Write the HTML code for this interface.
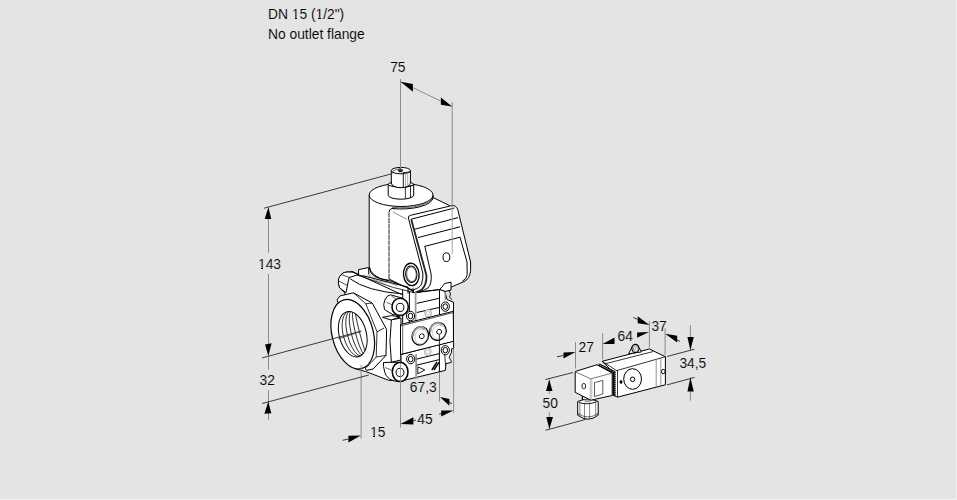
<!DOCTYPE html>
<html><head><meta charset="utf-8">
<style>
html,body{margin:0;padding:0;width:957px;height:500px;overflow:hidden;background:#f0f0f0}
svg{position:absolute;left:0;top:0;display:block}
text{font-family:"Liberation Sans",sans-serif;font-size:13.8px;fill:#000;stroke:#e4e4e4;stroke-width:0.1px}
</style></head><body>
<svg width="957" height="500" viewBox="0 0 957 500">
<defs><clipPath id="bore"><ellipse cx="352.75" cy="334.2" rx="13.4" ry="23" transform="rotate(-14.5 352.75 334.2)"/></clipPath></defs>
<rect x="0" y="0" width="956" height="499" fill="#e4e4e4"/>
<!-- heading -->
<text x="268" y="19">DN 15 (1/2")</text>
<text x="268" y="39">No outlet flange</text>

<!-- ============ MAIN VALVE ============ -->
<g id="valve" stroke="#000" stroke-width="1" fill="#fff" stroke-linejoin="round">
  <!-- coil cylinder -->
  <path d="M369.2,195 L369.2,266 Q370,277 389,281 L433,281 L433,195 Z"/>
  <ellipse cx="401.1" cy="195" rx="31.9" ry="11.5"/>
  <!-- connector ring -->
  <path d="M388.2,184.3 L388.2,195.2 A12.75,4 0 0 0 413.7,195.2 L413.7,184.3 Z"/>
  <ellipse cx="400.95" cy="184.3" rx="12.75" ry="2.8"/>
  <path d="M405.4,187.5 L405.4,198.5 M410.5,186.3 L410.5,197.5 M405.4,187.5 L413.7,184.8" fill="none" stroke-width="0.8"/>
  <!-- connector upper -->
  <path d="M391.3,170.6 L391.3,183 A9.55,4.7 0 0 0 410.4,183 L410.4,170.6 Z"/>
  <ellipse cx="400.85" cy="170.6" rx="9.55" ry="3.2"/>
  <path d="M392.5,171.5 Q396,168.8 401,168.6" fill="none" stroke-width="0.6"/>
  <path d="M403.3,172.6 L403.3,187.5 M410.4,172 L403.3,172.6" fill="none" stroke-width="0.9"/>
  <path d="M405.5,172.6 L405.5,186.8 M407.7,172.4 L407.7,186.2" fill="none" stroke="#888" stroke-width="0.7"/>
  <ellipse cx="400.4" cy="170.5" rx="2.4" ry="1.5" fill="#222" stroke="#444" stroke-width="0.8"/>

  <!-- housing block -->
  <path d="M389,281 L389,212 Q389,209.2 392,208.5 A31.9,11.5 0 0 0 433,197.5 L449.6,205.6 L460,260 L440,290 L413,291 Z" stroke="none"/>
  <path d="M389,279 L389,212" fill="none" stroke-width="1" stroke-dasharray="5 0.6" stroke="#222"/>
  <path d="M389,212 Q389,209.2 392,208.5 A31.9,11.5 0 0 0 433,197.5 L449.6,205.6" fill="none" stroke-width="1"/>
  <path d="M392,207.3 A31.9,11.5 0 0 0 433,196.5" fill="none" stroke-width="0.6"/>
  <path d="M392.8,212 L406.8,219.2" stroke="#777" stroke-width="0.8" fill="none"/>
  <path d="M389,279 L412.9,291" fill="none" stroke-width="1"/>
  <!-- cover -->
  <path d="M408.4,218 Q408,215.8 410.5,215.3 L452,205.6 Q456.5,205.2 457.8,209.8 L470.6,262 L470.6,270.4 Q469.8,279 463.9,281.7 L451.3,287 L440,289.5 L416.5,292.6 L413.4,292.6 L413.4,289.7 Q420,288 421.5,284 Q423.5,278 422.8,273.1 Z"/>
  <path d="M411.2,219.2 L454.4,208" fill="none"/>
  <path d="M414.8,229.2 L458,217.6 M418,237.6 L460,226.8" fill="none"/>
  <path d="M424.8,246.4 L460,237.2 L467,262 L467.2,274.6 Q466.5,279.5 462.2,281.3 M424.8,246.4 L431.1,274.1 Q432,284 428,288 Q424,291 416.5,292.3" fill="none"/>
  <path d="M411.2,219.2 L426.4,275.2 Q427,284 422,289.5 Q419,291.8 415.5,292.3" fill="none" stroke-width="1.8" stroke="#222"/>
  <ellipse cx="446.4" cy="257.2" rx="3.4" ry="4.4"/>
  <!-- grommet -->
  <ellipse cx="411.3" cy="274.4" rx="7.8" ry="11.2" stroke-width="1.3" transform="rotate(-5 411.3 274.4)"/>
  <ellipse cx="411.3" cy="274.2" rx="5.7" ry="8.3" transform="rotate(-5 411.3 274.4)"/>
  <ellipse cx="411.5" cy="274.2" rx="4.8" ry="7.4" stroke-width="0.6" transform="rotate(-5 411.3 274.4)"/>
  <path d="M412.9,287.7 L412.9,293" fill="none" stroke-width="0.8"/>
  <!-- bracket -->
  <path d="M439.5,289.5 Q442.5,287 444.5,283.5 L451,282.2 L451,290 L445,291.5 Z"/>

  <!-- ===== lower body ===== -->
  <path d="M338.5,284 Q339,273 347,272 L353,272 L358.3,274.6 L408,287 L408,330 L400,381 L388.8,380.3 L365.3,371.4 L354.4,368.5 L352,340 L345,300 L344.8,292.7 L339.8,288 Z"/>
  <!-- small tab behind -->
  <path d="M358.6,276 L358.6,269.6 L368.7,267.5 L368.7,274" />
  <!-- rear boss -->
  <path d="M346,292.7 L339.8,288 Q337.5,283 338.5,279 Q341,272 347,272 L353.2,272.1 L358.3,274.6 L349,277.6 Z"/>
  <path d="M338.5,281 L347.5,285.5 M341,274.5 L350,277.6" fill="none" stroke-width="0.7"/>
  <!-- body top surface lines -->
  <path d="M351,271.2 L401.7,294.5" fill="none" stroke-width="1"/>
  <path d="M357,275 L393.5,287.5 L414,292.5" fill="none" stroke-width="0.8"/>
  <path d="M350.2,278.8 Q366,291 403,294" fill="none"/>
  <path d="M369.4,268 Q370,278.5 389.5,280.4 L414,290.6" fill="none"/>
  <path d="M368.5,274.5 Q371,281.5 388.1,282.5 L397.6,285.8" fill="none" stroke-width="0.6" stroke="#555"/>
  <!-- hex nut -->
  <path d="M337,300 L339.8,296 L353.4,292.8 L372.2,303 L386.6,329.4 L386,355.4 L373.1,369 L366.3,370.4 L353,340 Z"/>
  <path d="M353.4,292.8 L365.8,303.8 L377,331.8 L376.2,357 L366.3,367.7 M365.8,303.8 L372.2,303 M377,331.8 L384.2,328 M376.2,357 L386,355.4" fill="none" stroke-width="0.8"/>
  <!-- port ring -->
  <ellipse cx="352.75" cy="334.2" rx="20.6" ry="35.5" transform="rotate(-14.5 352.75 334.2)" stroke-width="1.2"/>
  <ellipse cx="352.75" cy="334.2" rx="13.6" ry="23.2" transform="rotate(-14.5 352.75 334.2)"/>
  <g clip-path="url(#bore)"><g fill="none" stroke-width="0.75" transform="rotate(-14.5 352.75 334.2)">
    <path d="M354.48,311.00 A11.2,23.2 0 0 0 354.48,357.40"/>
    <path d="M356.21,311.00 A8.8,23.2 0 0 0 356.21,357.40"/>
    <path d="M357.93,311.00 A6.4,23.2 0 0 0 357.93,357.40"/>
    <path d="M359.66,311.00 A4.0,23.2 0 0 0 359.66,357.40"/>
    <path d="M361.39,311.00 A1.6,23.2 0 0 0 361.39,357.40"/>
  </g></g>
  <path d="M338.5,338.6 L361,331.5" fill="none" stroke-width="0.7"/>
  <!-- module flange side -->
  <path d="M391.4,319.8 Q388.5,341 391.4,362.2 L401,360 L401,318 Z"/>
  <!-- ===== module ===== -->
  <!-- upper strip -->
  <path d="M402.7,293.6 L416.5,293.4 L439.5,290.3 L439.5,316 L402.7,324 Z" stroke="none"/>
  <path d="M402.7,289.7 L402.7,324 M409.4,291.5 L409.4,322 M439.5,289.5 L439.5,316" fill="none"/>
  <path d="M413.4,292.6 L440,289.5" fill="none"/>
  <path d="M415.6,291 L415.6,321.5" fill="none" stroke="#9a9a9a" stroke-width="1.8"/>
  <path d="M416.8,303.4 L439.1,298.3 M416.8,312.5 L439.1,307.5" fill="none"/>
  <ellipse cx="428.1" cy="313.2" rx="3.3" ry="3.8" stroke="#8a8a8a" stroke-width="0.8"/>
  <ellipse cx="428.1" cy="313.2" rx="1.6" ry="2" stroke="#aaa" stroke-width="0.6"/>
  <!-- right sub-block -->
  <path d="M439.5,289.5 L445,291.5 L447,299.5 L448.2,300 L453.5,302.2 L453.5,341.4 L439.5,344 Z"/>
  <path d="M445.2,292 L445.4,300" fill="none" stroke="#888" stroke-width="1.5"/>
  <path d="M449,291 Q452,294 449.5,297 Q451,299 452,299.5" fill="none" stroke-width="0.9"/>
  <!-- lower strip + keyhole -->
  <path d="M401,354.5 L453.6,340.9 L453.6,348.4 L451.5,348.8 Q452.5,352.5 450,355.3 Q448.3,357.5 450.4,359.6 Q452,361.5 451.1,362.5 L446,363.5 L445.3,370.4 L408,379.4 L401,381 Z"/>
  <path d="M416.1,354 L416.1,379" fill="none" stroke="#9a9a9a" stroke-width="1.8"/>
  <path d="M439.4,344 L439.4,372 M416.5,359.1 L439.4,353.6 M416.5,365.2 L439.4,359.6" fill="none"/>
  <ellipse cx="427.8" cy="351.8" rx="3.3" ry="3.8" stroke="#8a8a8a" stroke-width="0.8"/>
  <ellipse cx="427.8" cy="351.8" rx="1.6" ry="2" stroke="#aaa" stroke-width="0.6"/>
  <!-- front plate -->
  <path d="M400.5,324.5 L453.3,311.3 L453.5,341.3 L400.5,354.5 Z"/>
  <path d="M401,325.8 L453,312.6" fill="none" stroke-width="0.7"/>
  <path d="M402.7,326 L402.7,354" fill="none" stroke-width="0.6"/>
  <!-- washers -->
  <g stroke-width="1">
   <ellipse cx="410.5" cy="316" rx="4.1" ry="4.7"/><ellipse cx="410.5" cy="316" rx="2.3" ry="2.8"/>
   <ellipse cx="445.3" cy="306.6" rx="4.1" ry="4.7"/><ellipse cx="445.3" cy="306.6" rx="2.3" ry="2.8"/>
   <ellipse cx="410.7" cy="359.1" rx="4.1" ry="4.7"/><ellipse cx="410.7" cy="359.1" rx="2.3" ry="2.8"/>
   <ellipse cx="445.3" cy="350.2" rx="4.1" ry="4.7"/><ellipse cx="445.3" cy="350.2" rx="2.3" ry="2.8"/>
  </g>
  <!-- knurled screws -->
  <g transform="rotate(20 420.3 335.8)">
  <ellipse cx="420.3" cy="335.8" rx="8.1" ry="9.4" stroke-width="1.25"/>
  <path d="M413.8,338.8 A6.5,7.800000000000001 0 0 1 422.3,328.1" fill="none" stroke="#9a9a9a" stroke-width="2"/>
  <ellipse cx="421.6" cy="336.2" rx="6.199999999999999" ry="7.5" stroke="#999" stroke-width="0.5" fill="none"/>
  </g>
  <path d="M419.4,335.2 L421.5,333.59999999999997 L424.0,334.59999999999997 L424.09999999999997,337.4 L422.0,338.8 L419.5,337.8 Z" stroke-width="0.9"/>
  <g transform="rotate(20 437.85 331.3)">
  <ellipse cx="437.85" cy="331.3" rx="8.25" ry="9.1" stroke-width="1.25"/>
  <path d="M431.20000000000005,334.3 A6.65,7.5 0 0 1 439.85,323.9" fill="none" stroke="#9a9a9a" stroke-width="2"/>
  <ellipse cx="439.15000000000003" cy="331.7" rx="6.35" ry="7.199999999999999" stroke="#999" stroke-width="0.5" fill="none"/>
  </g>
  <path d="M436.8,330.8 L438.90000000000003,329.2 L441.40000000000003,330.2 L441.5,333.0 L439.40000000000003,334.40000000000003 L436.90000000000003,333.40000000000003 Z" stroke-width="0.9"/>
  <path d="M439.4,334.5 L439.4,344" fill="none" stroke-width="0.8"/>
  <path d="M444.8,354.8 L445.5,365.5" fill="none" stroke-width="0.8"/>
  <!-- triangle and marks -->
  <path d="M417.8,366.8 L424.8,370 L417.8,373.8 Z" fill="none" stroke-width="0.9"/>
  <path d="M431.8,370 L437,362 M434,370 L439,362.3" fill="none" stroke-width="1.4"/>
  <!-- upper bolt bracket -->
  <path d="M382.5,317.3 L391.6,315.6 L400.1,316.9 L391,320 Z"/>
  <!-- upper bolt -->
  <path d="M393,314.8 L384.5,309.5 Q382.8,304 384.8,300 Q387,295 390.6,294.8 L403,298.4 L403,315 Z"/>
  <path d="M386.5,302.3 L392.7,305 M391.6,296.2 L395.7,298.9" fill="none" stroke-width="0.6"/>
  <ellipse cx="400.15" cy="306.9" rx="8.15" ry="8.7" stroke-width="1.5"/>
  <ellipse cx="400.15" cy="307.4" rx="3.75" ry="4.1"/>
  <!-- lower bolt -->
  <path d="M394.4,380.9 L389.6,379.2 Q385,375 384.8,372.4 Q383,366 383.5,362.5 L398.4,362.2 L400,381.5 Z"/>
  <path d="M385.5,367.6 L392,370.4" fill="none" stroke-width="0.6"/>
  <ellipse cx="400.15" cy="371.9" rx="7.85" ry="9.7" stroke-width="1.5"/>
  <ellipse cx="400" cy="372.4" rx="3.95" ry="4.1"/>
</g>

<!-- ============ DIMENSIONS main ============ -->
<g id="dims" fill="none" stroke-width="1">
  <!-- gray vertical extension lines -->
  <path d="M400.5,79 L400.5,168 M452.2,102 L452.2,205.5" stroke="#8c8c8c"/>
  <path d="M452.2,205.5 L452.2,254" stroke="#a4a4a4"/>
  <path d="M400.5,381 L400.5,427.5 M361.1,365 L361.1,438.5 M439.5,372 L439.5,401.5 M453.6,348.5 L453.6,413" stroke="#8c8c8c"/>
  <path d="M400.5,363 L400.5,381" stroke="#8c8c8c" stroke-width="0.8"/>
  <!-- 75 dim line -->
  <path d="M400.6,81.7 L452,106.5" stroke="#8c8c8c"/>
  <!-- 143 / 32 vertical -->
  <path d="M268.5,207.5 L268.5,252.7 M268.5,274 L268.5,356 M268.5,357 L268.5,369.6 M268.5,390.3 L268.5,419.8" stroke="#8c8c8c"/>
  <!-- slanted extension lines -->
  <path d="M264.1,208.2 L392.4,173.6" stroke="#3a3a3a"/>
  <path d="M262.2,357.9 L361.4,331" stroke="#3a3a3a"/>
  <path d="M262.2,403.5 L368.8,375" stroke="#3a3a3a"/>
  <!-- bottom dims short tails -->
  <path d="M342.7,440.3 L348.2,439" stroke="#3a3a3a"/>
  <path d="M413.4,421 L416,420" stroke="#3a3a3a"/>
  <path d="M439.2,414.2 L441.2,413.5 M449,402.2 L452,403.6" stroke="#3a3a3a"/>
</g>
<g id="arrows" fill="#000" stroke="none">
  <path d="M400.6,81.7 L412.9,84.1 L412.9,91.8 Z"/>
  <path d="M452,106.5 L440.9,97.4 L440.9,104.8 Z"/>
  <path d="M268.4,207.2 L264.7,219.1 L271.3,219.1 Z"/>
  <path d="M268.4,356 L265,344.4 L271.6,343.2 Z"/>
  <path d="M268.3,401.6 L264.4,413.8 L271.3,413.2 Z"/>
  <path d="M360.9,435.4 L348.4,435.8 L348.4,442.5 Z"/>
  <path d="M400.5,424 L413.4,417.2 L413.4,424.6 Z"/>
  <path d="M453.4,410.4 L441.2,410.4 L441.2,416.5 Z"/>
  <path d="M439.9,397 L449.4,399 L449.4,405.7 Z"/>
</g>
<g id="dimtext">
  <text x="390.2" y="71.8">75</text>
  <text x="258" y="269">143</text>
  <text x="259.6" y="384.8">32</text>
  <text x="409.8" y="392.3">67,3</text>
  <text x="370" y="436.8">15</text>
  <text x="417.3" y="423.8">45</text>
</g>

<!-- ============ SOLENOID small ============ -->
<g id="sol" stroke="#000" stroke-width="1" fill="#fff" stroke-linejoin="round">
  <!-- cable gland -->
  <path d="M582.4,395 L582.4,401.5" fill="none" stroke-width="1.2"/>
  <path d="M577.7,401.5 Q588,397 598.2,401.5 L598.2,415.2 Q588,423.2 577.7,415.2 Z"/>
  <path d="M584,399.5 L592,399.5 L590,402.5 L585,402.5 Z" fill="#aaa" stroke="none"/>
  <path d="M579.9,402.5 L579.9,416 M584.5,403.5 L584.5,418.5 M589.6,403.5 L589.6,419 M595.7,402.5 L595.7,416.5" fill="none" stroke="#555" stroke-width="0.7"/>
  <path d="M578.8,402.4 Q587,405.5 596.8,401.7" fill="none" stroke-width="0.9"/>
  <path d="M577.7,413.2 Q588,420.8 598.2,413.2" fill="none" stroke-width="0.6"/>
  <!-- main body -->
  <path d="M602.2,361.3 L649.3,349 L665.4,356.7 L665.4,384.8 L617.7,397.1 L613.3,395.5 L613.3,372.5 Z"/>
  <path d="M617.1,370.5 L665.4,356.7 M617.5,370.5 L617.5,397.1 M605,363.8 L653,351.6" fill="none" stroke-width="0.8"/>
  <path d="M602.2,361.3 L617.2,371" fill="none" stroke-width="0.8"/>
  <path d="M656.2,359 L656.2,387 M660.8,358 L660.8,386" fill="none" stroke="#777" stroke-width="0.8"/>
  <ellipse cx="632.6" cy="379" rx="8.9" ry="10.3"/>
  <ellipse cx="632.6" cy="379.3" rx="2.2" ry="2.3"/>
  <ellipse cx="663.3" cy="371.6" rx="1.8" ry="2.2"/>
  <ellipse cx="621" cy="382" rx="1" ry="1.4" fill="#000"/>
  <!-- nut on top -->
  <path d="M628.7,353.7 L632.5,346 Q634.5,343.5 637.5,345 L641.5,351.9 Z" stroke-width="1"/>
  <ellipse cx="635.4" cy="348.5" rx="3.5" ry="4.2" stroke-width="1.2"/>
  <ellipse cx="635.8" cy="348.6" rx="2.3" ry="2.9" stroke="#666" stroke-width="0.8"/>
  <path d="M634.5,350.5 L636.5,346.5" fill="none" stroke="#888" stroke-width="0.8"/>
  <!-- plug -->
  <path d="M575.2,371.5 L597.1,364.7 L612.2,373.1 L612.2,395.5 L590.8,400.2 L575.2,392.4 Z"/>
  <path d="M575.5,372 L590.8,378.8 L612.2,373.1" fill="none" stroke="#555" stroke-width="0.8"/>
  <path d="M590.3,379 L590.3,399 M591.8,379 L591.8,399" fill="none" stroke="#999" stroke-width="0.7"/>
  <path d="M594.5,382.5 L602.8,380.4 L602.8,394 L594.5,396.6 Z" fill="none" stroke="#333" stroke-width="0.8"/>
  <ellipse cx="583.8" cy="386.1" rx="1.9" ry="2.8" stroke-width="0.8"/>
  <!-- gasket -->
  <path d="M597.6,364.9 L613.3,372.5 L613.3,395.5" fill="none" stroke-width="1.1"/>
  <path d="M599,364 L614.8,371.6 L614.8,396" fill="none" stroke-width="1.1"/>
  <path d="M615,372 L615,396" fill="none" stroke-width="1" stroke-dasharray="1 1"/>
</g>
<g id="soldims" fill="none" stroke-width="1">
  <path d="M575.5,342 L575.5,368.5 M602.6,333.2 L602.6,359.5 M649.4,321.3 L649.4,347.6 M665.1,328.2 L665.1,355 M690.4,325.1 L690.4,350 M690.4,377.4 L690.4,400.7 M549.3,379.5 L549.3,394 M549.3,412.3 L549.3,429" stroke="#8c8c8c"/>
  <path d="M545.5,379.5 L573,372.5 M667,356.5 L694.5,349.2 M667,384.9 L694.5,377.4 M545.5,430.3 L585.8,419.4" stroke="#3a3a3a"/>
  <path d="M557,356.8 L563.5,355.5 M633.4,317.5 L637.7,319.5 M677.2,340 L680,341.3" stroke="#3a3a3a"/>
</g>
<g fill="#000">
  <path d="M575.5,352 L563.5,352.5 L563.5,358.5 Z"/>
  <path d="M602.6,343.9 L614.5,337.6 L614.5,343.9 Z"/>
  <path d="M649,332 L637.1,332.6 L637.1,337.8 Z"/>
  <path d="M649.4,325 L637.7,316.3 L637.7,323.2 Z"/>
  <path d="M665.1,333.8 L677.2,335.7 L677.2,342.6 Z"/>
  <path d="M690.4,350.2 L687.4,337 L693.8,337 Z"/>
  <path d="M690.4,377.4 L687.4,391.4 L693.8,391.4 Z"/>
  <path d="M549.2,379.5 L546,391 L552.5,391 Z"/>
  <path d="M549.4,429.1 L546.3,416.9 L553,416.9 Z"/>
</g>
<g>
  <text x="578.6" y="352">27</text>
  <text x="617.5" y="341.3">64</text>
  <text x="651.4" y="331">37</text>
  <text x="679.4" y="368">34,5</text>
  <text x="542.6" y="407.9">50</text>
</g>
<g fill="#e4e4e4">
  <rect x="292" y="18" width="3" height="1"/><rect x="297" y="18" width="2" height="1"/>
  <rect x="316" y="18" width="2" height="1"/><rect x="321" y="18" width="1" height="1"/>
  <rect x="258" y="268" width="3" height="1"/><rect x="263" y="268" width="3" height="1"/>
  <rect x="370" y="436" width="3" height="1"/><rect x="375" y="436" width="3" height="1"/>
</g>
</svg>
</body></html>
